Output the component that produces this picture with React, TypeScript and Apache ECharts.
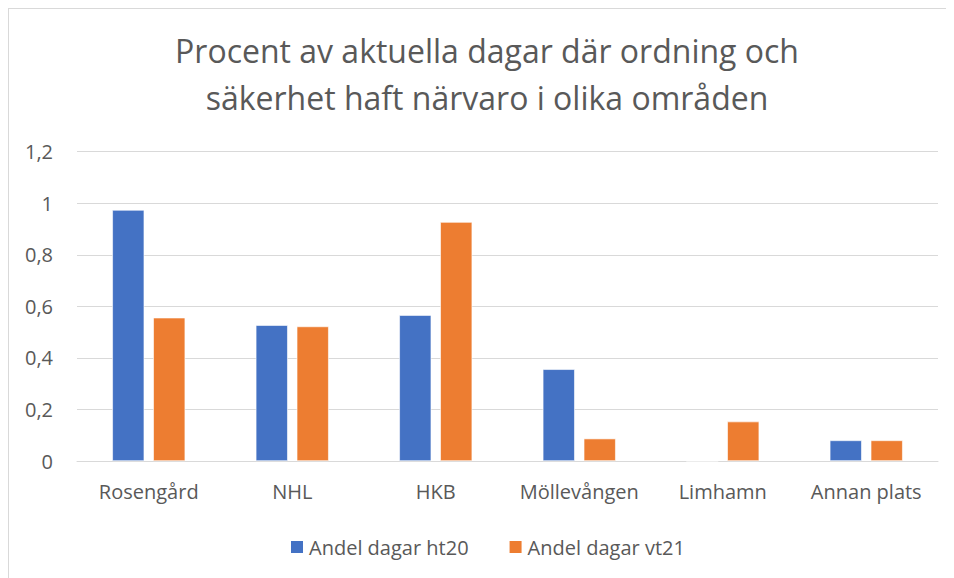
import React, { useEffect, useRef } from "react";
import * as echarts from "echarts";

const categories = ["Rosengård", "NHL", "HKB", "Möllevången", "Limhamn", "Annan plats"];
const seriesNames = ["Andel dagar ht20", "Andel dagar vt21"];
const ht20 = [0.974, 0.527, 0.566, 0.356, 0, 0.08];
const vt21 = [0.556, 0.522, 0.927, 0.087, 0.153, 0.08];
const titleLines = ["Procent av aktuella dagar där ordning och", "säkerhet haft närvaro i olika områden"];

const FONT = "'Open Sans', sans-serif";
const TXT = "#595959";

export default function App() {
  const ref = useRef<HTMLDivElement>(null);
  useEffect(() => {
    if (!ref.current) return;
    const chart = echarts.init(ref.current, null, { renderer: "svg" });
    chart.setOption({
      animation: false,
      backgroundColor: "#ffffff",
      textStyle: { fontFamily: FONT },
      graphic: titleLines.map((t, i) => ({
        type: "text",
        x: 478,
        y: 41 + i * 47,
        style: {
          text: t,
          font: `32px ${FONT}`,
          fill: TXT,
          textAlign: "center",
          textVerticalAlign: "middle",
        },
      })),
      legend: {
        left: 280,
        top: 528,
        padding: 0,
        itemWidth: 14,
        itemHeight: 14,
        itemGap: 39,
        icon: "rect",
        textStyle: { color: TXT, fontSize: 20, fontFamily: FONT },
        data: seriesNames,
      },
      grid: { left: 68, right: 16, top: 142.7, bottom: 117 },
      xAxis: {
        type: "category",
        data: categories,
        axisTick: { show: false },
        axisLine: { lineStyle: { color: "#d9d9d9", width: 1 } },
        axisLabel: {
          color: TXT,
          fontSize: 20,
          margin: 20,
          fontFamily: FONT,
          lineHeight: 20,
          interval: 0,
        },
      },
      yAxis: {
        type: "value",
        min: 0,
        max: 1.2,
        interval: 0.2,
        axisLine: { show: false },
        axisTick: { show: false },
        splitLine: { lineStyle: { color: "#d9d9d9", width: 1 } },
        axisLabel: {
          color: TXT,
          fontSize: 20,
          margin: 24,
          fontFamily: FONT,
          formatter: (v: number) => String(Math.round(v * 10) / 10).replace(".", ","),
        },
      },
      series: [
        {
          name: seriesNames[0],
          type: "bar",
          data: ht20,
          barWidth: 32,
          barGap: "28%",
          itemStyle: { color: "#4472C4", borderColor: "#ffffff", borderWidth: 0.6 },
        },
        {
          name: seriesNames[1],
          type: "bar",
          data: vt21,
          barWidth: 32,
          barGap: "28%",
          itemStyle: { color: "#ED7D31", borderColor: "#ffffff", borderWidth: 0.6 },
        },
      ],
    });
    return () => chart.dispose();
  }, []);
  return (
    <div
      ref={ref}
      style={{
        width: 945,
        height: 569,
        borderLeft: "1px solid #d9d9d9",
        borderTop: "1px solid #d9d9d9",
      }}
    />
  );
}
